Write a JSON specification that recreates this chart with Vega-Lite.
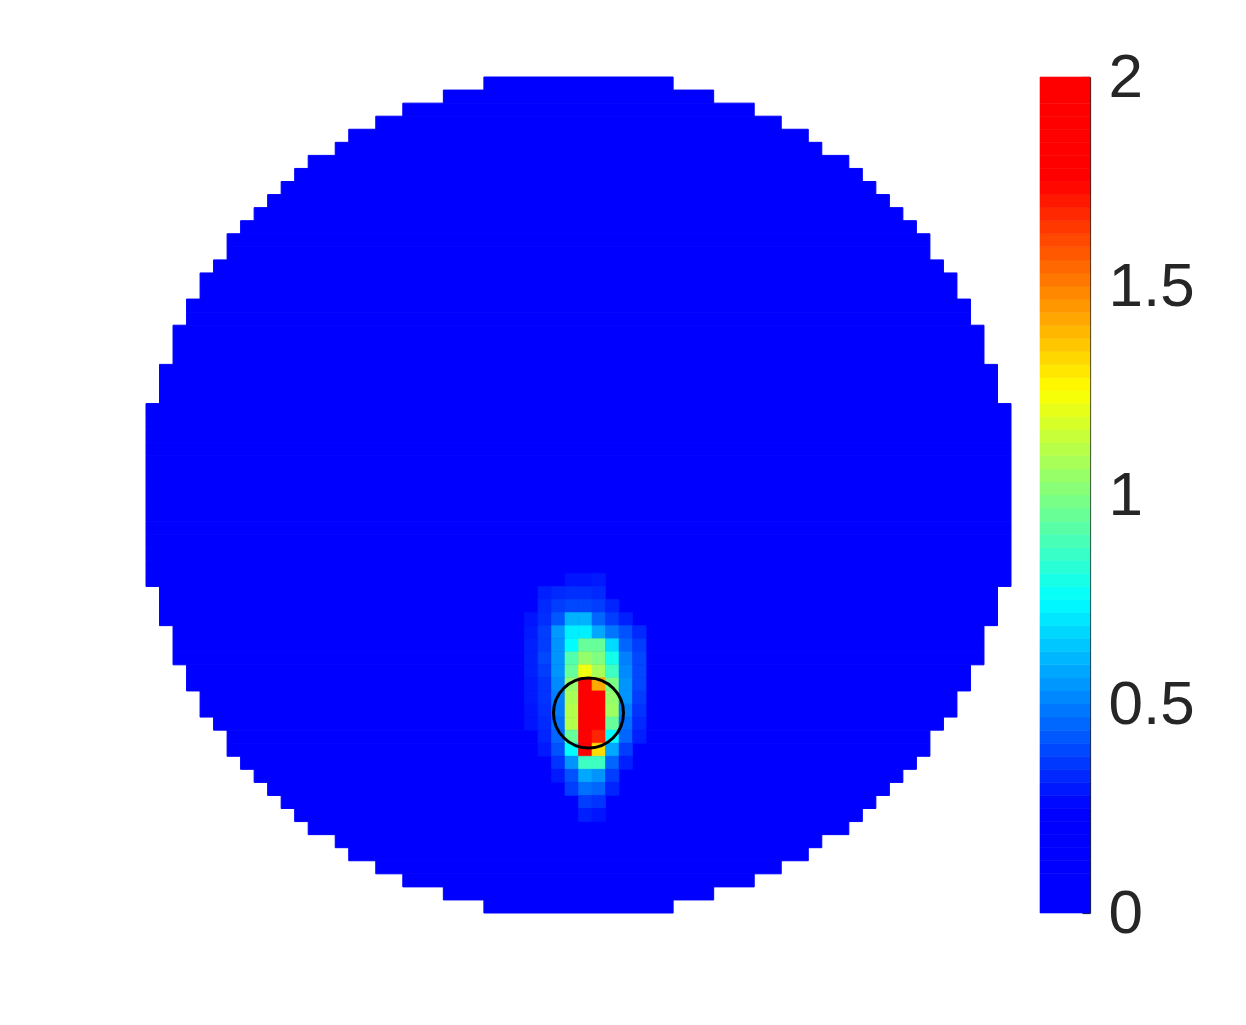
{
  "$schema": "https://vega.github.io/schema/vega-lite/v6.json",
  "background": "white",
  "padding": {"left": 145, "top": 46, "right": 0, "bottom": 0},
  "spacing": 27,
  "config": {"view": {"stroke": null}, "font": "Liberation Sans"},
  "datasets": {
    "mask": [
      {"r0":0,"r1":1,"c0":25,"c1":39,"v":0},{"r0":1,"r1":2,"c0":22,"c1":42,"v":0},{"r0":2,"r1":3,"c0":19,"c1":45,"v":0},{"r0":3,"r1":4,"c0":17,"c1":47,"v":0},
      {"r0":4,"r1":5,"c0":15,"c1":49,"v":0},{"r0":5,"r1":6,"c0":14,"c1":50,"v":0},{"r0":6,"r1":7,"c0":12,"c1":52,"v":0},{"r0":7,"r1":8,"c0":11,"c1":53,"v":0},
      {"r0":8,"r1":9,"c0":10,"c1":54,"v":0},{"r0":9,"r1":10,"c0":9,"c1":55,"v":0},{"r0":10,"r1":11,"c0":8,"c1":56,"v":0},{"r0":11,"r1":12,"c0":7,"c1":57,"v":0},
      {"r0":12,"r1":13,"c0":6,"c1":58,"v":0},{"r0":13,"r1":14,"c0":6,"c1":58,"v":0},{"r0":14,"r1":15,"c0":5,"c1":59,"v":0},{"r0":15,"r1":16,"c0":4,"c1":60,"v":0},
      {"r0":16,"r1":17,"c0":4,"c1":60,"v":0},{"r0":17,"r1":18,"c0":3,"c1":61,"v":0},{"r0":18,"r1":19,"c0":3,"c1":61,"v":0},{"r0":19,"r1":20,"c0":2,"c1":62,"v":0},
      {"r0":20,"r1":21,"c0":2,"c1":62,"v":0},{"r0":21,"r1":22,"c0":2,"c1":62,"v":0},{"r0":22,"r1":23,"c0":1,"c1":63,"v":0},{"r0":23,"r1":24,"c0":1,"c1":63,"v":0},
      {"r0":24,"r1":25,"c0":1,"c1":63,"v":0},{"r0":25,"r1":26,"c0":0,"c1":64,"v":0},{"r0":26,"r1":27,"c0":0,"c1":64,"v":0},{"r0":27,"r1":28,"c0":0,"c1":64,"v":0},
      {"r0":28,"r1":29,"c0":0,"c1":64,"v":0},{"r0":29,"r1":30,"c0":0,"c1":64,"v":0},{"r0":30,"r1":31,"c0":0,"c1":64,"v":0},{"r0":31,"r1":32,"c0":0,"c1":64,"v":0},
      {"r0":32,"r1":33,"c0":0,"c1":64,"v":0},{"r0":33,"r1":34,"c0":0,"c1":64,"v":0},{"r0":34,"r1":35,"c0":0,"c1":64,"v":0},{"r0":35,"r1":36,"c0":0,"c1":64,"v":0},
      {"r0":36,"r1":37,"c0":0,"c1":64,"v":0},{"r0":37,"r1":38,"c0":0,"c1":64,"v":0},{"r0":38,"r1":39,"c0":0,"c1":64,"v":0},{"r0":39,"r1":40,"c0":1,"c1":63,"v":0},
      {"r0":40,"r1":41,"c0":1,"c1":63,"v":0},{"r0":41,"r1":42,"c0":1,"c1":63,"v":0},{"r0":42,"r1":43,"c0":2,"c1":62,"v":0},{"r0":43,"r1":44,"c0":2,"c1":62,"v":0},
      {"r0":44,"r1":45,"c0":2,"c1":62,"v":0},{"r0":45,"r1":46,"c0":3,"c1":61,"v":0},{"r0":46,"r1":47,"c0":3,"c1":61,"v":0},{"r0":47,"r1":48,"c0":4,"c1":60,"v":0},
      {"r0":48,"r1":49,"c0":4,"c1":60,"v":0},{"r0":49,"r1":50,"c0":5,"c1":59,"v":0},{"r0":50,"r1":51,"c0":6,"c1":58,"v":0},{"r0":51,"r1":52,"c0":6,"c1":58,"v":0},
      {"r0":52,"r1":53,"c0":7,"c1":57,"v":0},{"r0":53,"r1":54,"c0":8,"c1":56,"v":0},{"r0":54,"r1":55,"c0":9,"c1":55,"v":0},{"r0":55,"r1":56,"c0":10,"c1":54,"v":0},
      {"r0":56,"r1":57,"c0":11,"c1":53,"v":0},{"r0":57,"r1":58,"c0":12,"c1":52,"v":0},{"r0":58,"r1":59,"c0":14,"c1":50,"v":0},{"r0":59,"r1":60,"c0":15,"c1":49,"v":0},
      {"r0":60,"r1":61,"c0":17,"c1":47,"v":0},{"r0":61,"r1":62,"c0":19,"c1":45,"v":0},{"r0":62,"r1":63,"c0":22,"c1":42,"v":0},{"r0":63,"r1":64,"c0":25,"c1":39,"v":0}
    ],
    "cells": [
      {"i":31,"i2":32,"j":38,"j2":39,"v":0.29},{"i":32,"i2":33,"j":38,"j2":39,"v":0.29},{"i":33,"i2":34,"j":38,"j2":39,"v":0.30},
      {"i":29,"i2":30,"j":39,"j2":40,"v":0.31},{"i":30,"i2":31,"j":39,"j2":40,"v":0.33},{"i":31,"i2":32,"j":39,"j2":40,"v":0.34},{"i":32,"i2":33,"j":39,"j2":40,"v":0.34},{"i":33,"i2":34,"j":39,"j2":40,"v":0.33},
      {"i":29,"i2":30,"j":40,"j2":41,"v":0.33},{"i":30,"i2":31,"j":40,"j2":41,"v":0.37},{"i":31,"i2":32,"j":40,"j2":41,"v":0.39},{"i":32,"i2":33,"j":40,"j2":41,"v":0.39},{"i":33,"i2":34,"j":40,"j2":41,"v":0.37},{"i":34,"i2":35,"j":40,"j2":41,"v":0.32},
      {"i":28,"i2":29,"j":41,"j2":42,"v":0.29},{"i":29,"i2":30,"j":41,"j2":42,"v":0.34},{"i":30,"i2":31,"j":41,"j2":42,"v":0.42},{"i":31,"i2":32,"j":41,"j2":42,"v":0.60},{"i":32,"i2":33,"j":41,"j2":42,"v":0.60},{"i":33,"i2":34,"j":41,"j2":42,"v":0.45},{"i":34,"i2":35,"j":41,"j2":42,"v":0.37},{"i":35,"i2":36,"j":41,"j2":42,"v":0.31},
      {"i":28,"i2":29,"j":42,"j2":43,"v":0.30},{"i":29,"i2":30,"j":42,"j2":43,"v":0.37},{"i":30,"i2":31,"j":42,"j2":43,"v":0.55},{"i":31,"i2":32,"j":42,"j2":43,"v":0.72},{"i":32,"i2":33,"j":42,"j2":43,"v":0.72},{"i":33,"i2":34,"j":42,"j2":43,"v":0.58},{"i":34,"i2":35,"j":42,"j2":43,"v":0.48},{"i":35,"i2":36,"j":42,"j2":43,"v":0.41},{"i":36,"i2":37,"j":42,"j2":43,"v":0.33},
      {"i":28,"i2":29,"j":43,"j2":44,"v":0.31},{"i":29,"i2":30,"j":43,"j2":44,"v":0.37},{"i":30,"i2":31,"j":43,"j2":44,"v":0.54},{"i":31,"i2":32,"j":43,"j2":44,"v":0.75},{"i":32,"i2":33,"j":43,"j2":44,"v":0.95},{"i":33,"i2":34,"j":43,"j2":44,"v":0.95},{"i":34,"i2":35,"j":43,"j2":44,"v":0.68},{"i":35,"i2":36,"j":43,"j2":44,"v":0.45},{"i":36,"i2":37,"j":43,"j2":44,"v":0.37},
      {"i":28,"i2":29,"j":44,"j2":45,"v":0.31},{"i":29,"i2":30,"j":44,"j2":45,"v":0.39},{"i":30,"i2":31,"j":44,"j2":45,"v":0.54},{"i":31,"i2":32,"j":44,"j2":45,"v":0.91},{"i":32,"i2":33,"j":44,"j2":45,"v":1.04},{"i":33,"i2":34,"j":44,"j2":45,"v":1.00},{"i":34,"i2":35,"j":44,"j2":45,"v":0.79},{"i":35,"i2":36,"j":44,"j2":45,"v":0.50},{"i":36,"i2":37,"j":44,"j2":45,"v":0.39},
      {"i":28,"i2":29,"j":45,"j2":46,"v":0.31},{"i":29,"i2":30,"j":45,"j2":46,"v":0.37},{"i":30,"i2":31,"j":45,"j2":46,"v":0.54},{"i":31,"i2":32,"j":45,"j2":46,"v":0.95},{"i":32,"i2":33,"j":45,"j2":46,"v":1.22},{"i":33,"i2":34,"j":45,"j2":46,"v":1.08},{"i":34,"i2":35,"j":45,"j2":46,"v":0.87},{"i":35,"i2":36,"j":45,"j2":46,"v":0.52},{"i":36,"i2":37,"j":45,"j2":46,"v":0.39},
      {"i":28,"i2":29,"j":46,"j2":47,"v":0.30},{"i":29,"i2":30,"j":46,"j2":47,"v":0.35},{"i":30,"i2":31,"j":46,"j2":47,"v":0.52},{"i":31,"i2":32,"j":46,"j2":47,"v":1.04},{"i":32,"i2":33,"j":46,"j2":47,"v":2.00},{"i":33,"i2":34,"j":46,"j2":47,"v":1.42},{"i":34,"i2":35,"j":46,"j2":47,"v":0.99},{"i":35,"i2":36,"j":46,"j2":47,"v":0.54},{"i":36,"i2":37,"j":46,"j2":47,"v":0.39},
      {"i":28,"i2":29,"j":47,"j2":48,"v":0.30},{"i":29,"i2":30,"j":47,"j2":48,"v":0.35},{"i":30,"i2":31,"j":47,"j2":48,"v":0.50},{"i":31,"i2":32,"j":47,"j2":48,"v":1.08},{"i":32,"i2":33,"j":47,"j2":48,"v":2.00},{"i":33,"i2":34,"j":47,"j2":48,"v":2.00},{"i":34,"i2":35,"j":47,"j2":48,"v":1.04},{"i":35,"i2":36,"j":47,"j2":48,"v":0.54},{"i":36,"i2":37,"j":47,"j2":48,"v":0.37},
      {"i":28,"i2":29,"j":48,"j2":49,"v":0.29},{"i":29,"i2":30,"j":48,"j2":49,"v":0.34},{"i":30,"i2":31,"j":48,"j2":49,"v":0.49},{"i":31,"i2":32,"j":48,"j2":49,"v":1.10},{"i":32,"i2":33,"j":48,"j2":49,"v":2.00},{"i":33,"i2":34,"j":48,"j2":49,"v":2.00},{"i":34,"i2":35,"j":48,"j2":49,"v":1.06},{"i":35,"i2":36,"j":48,"j2":49,"v":0.50},{"i":36,"i2":37,"j":48,"j2":49,"v":0.35},
      {"i":28,"i2":29,"j":49,"j2":50,"v":0.29},{"i":29,"i2":30,"j":49,"j2":50,"v":0.33},{"i":30,"i2":31,"j":49,"j2":50,"v":0.47},{"i":31,"i2":32,"j":49,"j2":50,"v":1.10},{"i":32,"i2":33,"j":49,"j2":50,"v":2.00},{"i":33,"i2":34,"j":49,"j2":50,"v":2.00},{"i":34,"i2":35,"j":49,"j2":50,"v":0.95},{"i":35,"i2":36,"j":49,"j2":50,"v":0.47},{"i":36,"i2":37,"j":49,"j2":50,"v":0.33},
      {"i":29,"i2":30,"j":50,"j2":51,"v":0.32},{"i":30,"i2":31,"j":50,"j2":51,"v":0.45},{"i":31,"i2":32,"j":50,"j2":51,"v":0.95},{"i":32,"i2":33,"j":50,"j2":51,"v":2.00},{"i":33,"i2":34,"j":50,"j2":51,"v":1.68},{"i":34,"i2":35,"j":50,"j2":51,"v":0.75},{"i":35,"i2":36,"j":50,"j2":51,"v":0.45},{"i":36,"i2":37,"j":50,"j2":51,"v":0.31},
      {"i":29,"i2":30,"j":51,"j2":52,"v":0.30},{"i":30,"i2":31,"j":51,"j2":52,"v":0.41},{"i":31,"i2":32,"j":51,"j2":52,"v":0.75},{"i":32,"i2":33,"j":51,"j2":52,"v":2.00},{"i":33,"i2":34,"j":51,"j2":52,"v":1.32},{"i":34,"i2":35,"j":51,"j2":52,"v":0.58},{"i":35,"i2":36,"j":51,"j2":52,"v":0.37},
      {"i":30,"i2":31,"j":52,"j2":53,"v":0.35},{"i":31,"i2":32,"j":52,"j2":53,"v":0.54},{"i":32,"i2":33,"j":52,"j2":53,"v":0.87},{"i":33,"i2":34,"j":52,"j2":53,"v":0.87},{"i":34,"i2":35,"j":52,"j2":53,"v":0.45},{"i":35,"i2":36,"j":52,"j2":53,"v":0.31},
      {"i":30,"i2":31,"j":53,"j2":54,"v":0.30},{"i":31,"i2":32,"j":53,"j2":54,"v":0.41},{"i":32,"i2":33,"j":53,"j2":54,"v":0.58},{"i":33,"i2":34,"j":53,"j2":54,"v":0.54},{"i":34,"i2":35,"j":53,"j2":54,"v":0.37},
      {"i":31,"i2":32,"j":54,"j2":55,"v":0.37},{"i":32,"i2":33,"j":54,"j2":55,"v":0.47},{"i":33,"i2":34,"j":54,"j2":55,"v":0.45},{"i":34,"i2":35,"j":54,"j2":55,"v":0.32},
      {"i":32,"i2":33,"j":55,"j2":56,"v":0.37},{"i":33,"i2":34,"j":55,"j2":56,"v":0.35},
      {"i":32,"i2":33,"j":56,"j2":57,"v":0.31},{"i":33,"i2":34,"j":56,"j2":57,"v":0.29}
    ],
    "marker": [{"x": 32.74, "y": 48.69}],
    "bar": [
      {"lo":0,"hi":0.03125,"v":0.016},{"lo":0.03125,"hi":0.0625,"v":0.047},{"lo":0.0625,"hi":0.09375,"v":0.078},{"lo":0.09375,"hi":0.125,"v":0.109},
      {"lo":0.125,"hi":0.15625,"v":0.141},{"lo":0.15625,"hi":0.1875,"v":0.172},{"lo":0.1875,"hi":0.21875,"v":0.203},{"lo":0.21875,"hi":0.25,"v":0.234},
      {"lo":0.25,"hi":0.28125,"v":0.266},{"lo":0.28125,"hi":0.3125,"v":0.297},{"lo":0.3125,"hi":0.34375,"v":0.328},{"lo":0.34375,"hi":0.375,"v":0.359},
      {"lo":0.375,"hi":0.40625,"v":0.391},{"lo":0.40625,"hi":0.4375,"v":0.422},{"lo":0.4375,"hi":0.46875,"v":0.453},{"lo":0.46875,"hi":0.5,"v":0.484},
      {"lo":0.5,"hi":0.53125,"v":0.516},{"lo":0.53125,"hi":0.5625,"v":0.547},{"lo":0.5625,"hi":0.59375,"v":0.578},{"lo":0.59375,"hi":0.625,"v":0.609},
      {"lo":0.625,"hi":0.65625,"v":0.641},{"lo":0.65625,"hi":0.6875,"v":0.672},{"lo":0.6875,"hi":0.71875,"v":0.703},{"lo":0.71875,"hi":0.75,"v":0.734},
      {"lo":0.75,"hi":0.78125,"v":0.766},{"lo":0.78125,"hi":0.8125,"v":0.797},{"lo":0.8125,"hi":0.84375,"v":0.828},{"lo":0.84375,"hi":0.875,"v":0.859},
      {"lo":0.875,"hi":0.90625,"v":0.891},{"lo":0.90625,"hi":0.9375,"v":0.922},{"lo":0.9375,"hi":0.96875,"v":0.953},{"lo":0.96875,"hi":1,"v":0.984},
      {"lo":1,"hi":1.03125,"v":1.016},{"lo":1.03125,"hi":1.0625,"v":1.047},{"lo":1.0625,"hi":1.09375,"v":1.078},{"lo":1.09375,"hi":1.125,"v":1.109},
      {"lo":1.125,"hi":1.15625,"v":1.141},{"lo":1.15625,"hi":1.1875,"v":1.172},{"lo":1.1875,"hi":1.21875,"v":1.203},{"lo":1.21875,"hi":1.25,"v":1.234},
      {"lo":1.25,"hi":1.28125,"v":1.266},{"lo":1.28125,"hi":1.3125,"v":1.297},{"lo":1.3125,"hi":1.34375,"v":1.328},{"lo":1.34375,"hi":1.375,"v":1.359},
      {"lo":1.375,"hi":1.40625,"v":1.391},{"lo":1.40625,"hi":1.4375,"v":1.422},{"lo":1.4375,"hi":1.46875,"v":1.453},{"lo":1.46875,"hi":1.5,"v":1.484},
      {"lo":1.5,"hi":1.53125,"v":1.516},{"lo":1.53125,"hi":1.5625,"v":1.547},{"lo":1.5625,"hi":1.59375,"v":1.578},{"lo":1.59375,"hi":1.625,"v":1.609},
      {"lo":1.625,"hi":1.65625,"v":1.641},{"lo":1.65625,"hi":1.6875,"v":1.672},{"lo":1.6875,"hi":1.71875,"v":1.703},{"lo":1.71875,"hi":1.75,"v":1.734},
      {"lo":1.75,"hi":1.78125,"v":1.766},{"lo":1.78125,"hi":1.8125,"v":1.797},{"lo":1.8125,"hi":1.84375,"v":1.828},{"lo":1.84375,"hi":1.875,"v":1.859},
      {"lo":1.875,"hi":1.90625,"v":1.891},{"lo":1.90625,"hi":1.9375,"v":1.922},{"lo":1.9375,"hi":1.96875,"v":1.953},{"lo":1.96875,"hi":2,"v":1.984}
    ]
  },
  "hconcat": [
    {
      "width": 865,
      "height": 836,
      "layer": [
        {
          "data": {"name": "mask"},
          "mark": {"type": "rect", "strokeWidth": 1},
          "encoding": {
            "x": {"field": "c0", "type": "quantitative", "scale": {"domain": [0, 64], "nice": false, "zero": false}, "axis": null},
            "x2": {"field": "c1"},
            "y": {"field": "r0", "type": "quantitative", "scale": {"domain": [0, 64], "nice": false, "zero": false, "reverse": true}, "axis": null},
            "y2": {"field": "r1"},
            "color": {"field": "v", "type": "quantitative", "scale": {"domain": [0, 0.25, 0.75, 1.25, 1.75, 2], "range": ["#0000ff", "#0000ff", "#00ffff", "#ffff00", "#ff0000", "#ff0000"], "interpolate": "rgb", "clamp": true}, "legend": null},
            "stroke": {"field": "v", "type": "quantitative", "scale": {"domain": [0, 0.25, 0.75, 1.25, 1.75, 2], "range": ["#0000ff", "#0000ff", "#00ffff", "#ffff00", "#ff0000", "#ff0000"], "interpolate": "rgb", "clamp": true}, "legend": null}
          }
        },
        {
          "data": {"name": "cells"},
          "mark": {"type": "rect", "strokeWidth": 0.6},
          "encoding": {
            "x": {"field": "i", "type": "quantitative"},
            "x2": {"field": "i2"},
            "y": {"field": "j", "type": "quantitative"},
            "y2": {"field": "j2"},
            "color": {"field": "v", "type": "quantitative", "legend": null},
            "stroke": {"field": "v", "type": "quantitative", "legend": null}
          }
        },
        {
          "data": {"name": "marker"},
          "mark": {"type": "point", "shape": "circle", "filled": false, "size": 4900, "stroke": "#000000", "strokeWidth": 3, "opacity": 1},
          "encoding": {
            "x": {"field": "x", "type": "quantitative"},
            "y": {"field": "y", "type": "quantitative"}
          }
        }
      ]
    },
    {
      "width": 50,
      "height": 836,
      "data": {"name": "bar"},
      "mark": {"type": "rect", "strokeWidth": 0.6},
      "encoding": {
        "y": {"field": "lo", "type": "quantitative", "scale": {"domain": [0, 2], "nice": false, "zero": false},
          "axis": {"orient": "right", "values": [0, 0.5, 1, 1.5, 2], "format": "~g", "title": null, "grid": false,
            "domain": true, "domainColor": "#262626", "domainWidth": 1.2,
            "ticks": true, "tickSize": -8, "tickColor": "#262626", "tickWidth": 1.2,
            "labelFontSize": 62, "labelFont": "Liberation Sans", "labelColor": "#262626", "labelPadding": 26,
            "labelFlush": false, "labelOverlap": false, "labelBound": false}},
        "y2": {"field": "hi"},
        "color": {"field": "v", "type": "quantitative", "legend": null},
        "stroke": {"field": "v", "type": "quantitative", "legend": null}
      }
    }
  ]
}
